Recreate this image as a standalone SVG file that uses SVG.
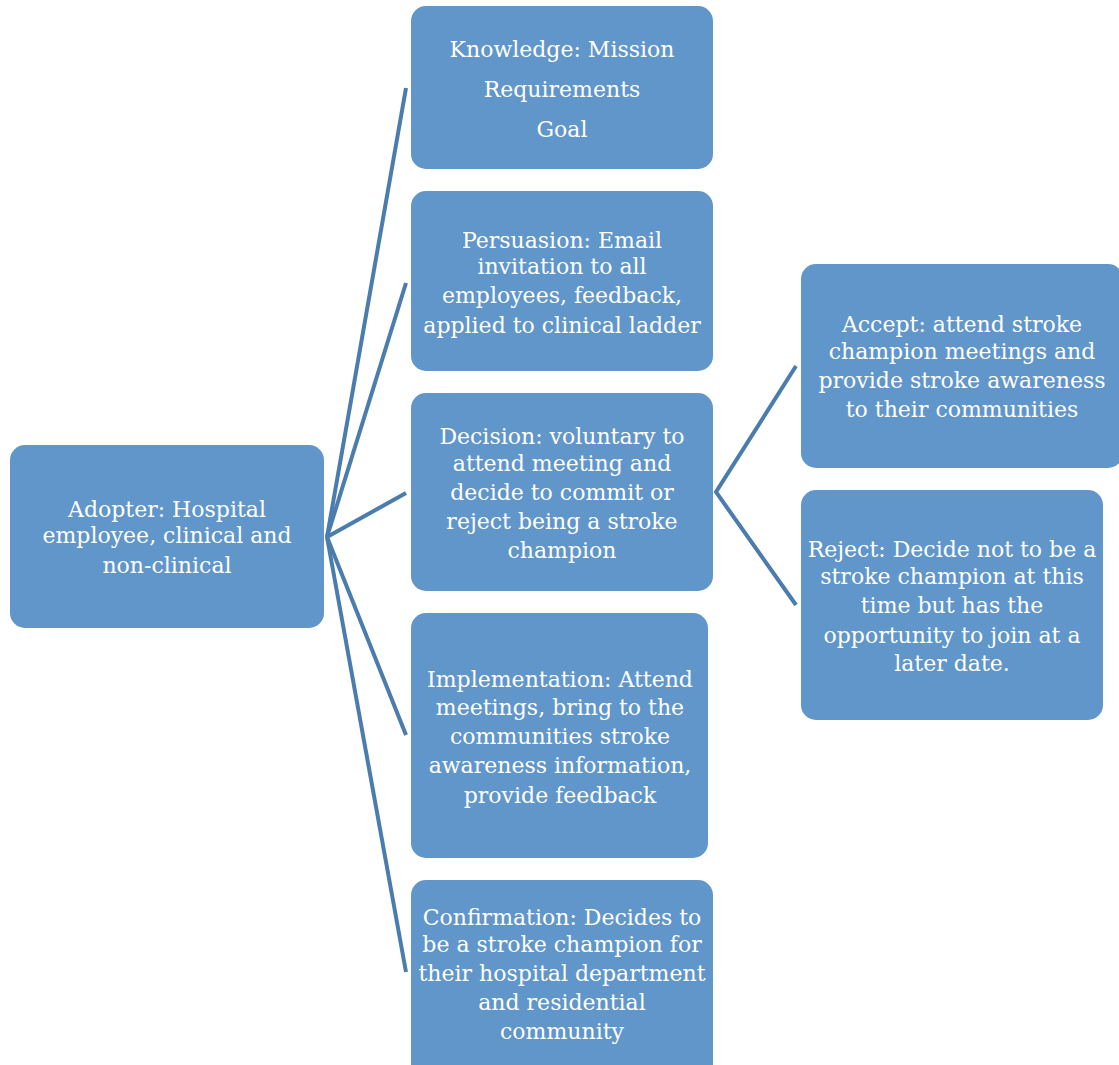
<svg xmlns="http://www.w3.org/2000/svg" width="1119" height="1065" viewBox="0 0 1119 1065">
<style>
.box{fill:#6096c9;}
.t{font-family:"DejaVu Serif","Liberation Serif",serif;font-size:22px;fill:#ffffff;text-anchor:middle;}
.c{stroke:#4a7dad;stroke-width:4;fill:none;stroke-linecap:butt;stroke-linejoin:miter;}
</style>
<rect width="1119" height="1065" fill="#ffffff"/>
<g id="connectors">
<line class="c" x1="327" y1="537" x2="406" y2="88"/>
<line class="c" x1="327" y1="537" x2="406" y2="283"/>
<line class="c" x1="327" y1="537" x2="406" y2="493"/>
<line class="c" x1="327" y1="537" x2="406" y2="735"/>
<line class="c" x1="327" y1="537" x2="406" y2="972"/>
<polyline class="c" points="796,366 716,492 796,605"/>
</g>
<g id="adopter">
<rect class="box" x="10" y="445" width="314" height="183" rx="15"/>
<text class="t" x="167" y="517">Adopter: Hospital</text>
<text class="t" x="167" y="543">employee, clinical and</text>
<text class="t" x="167" y="573">non-clinical</text>
</g>
<g id="knowledge">
<rect class="box" x="411" y="6" width="302" height="163" rx="15"/>
<text class="t" x="562" y="57">Knowledge: Mission</text>
<text class="t" x="562" y="97">Requirements</text>
<text class="t" x="562" y="137">Goal</text>
</g>
<g id="persuasion">
<rect class="box" x="411" y="191" width="302" height="180" rx="15"/>
<text class="t" x="562" y="248">Persuasion: Email</text>
<text class="t" x="562" y="274">invitation to all</text>
<text class="t" x="562" y="303">employees, feedback,</text>
<text class="t" x="562" y="333">applied to clinical ladder</text>
</g>
<g id="decision">
<rect class="box" x="411" y="393" width="302" height="198" rx="15"/>
<text class="t" x="562" y="444">Decision: voluntary to</text>
<text class="t" x="562" y="471">attend meeting and</text>
<text class="t" x="562" y="500">decide to commit or</text>
<text class="t" x="562" y="529">reject being a stroke</text>
<text class="t" x="562" y="558">champion</text>
</g>
<g id="implementation">
<rect class="box" x="411" y="613" width="297" height="245" rx="15"/>
<text class="t" x="560" y="687">Implementation: Attend</text>
<text class="t" x="560" y="715">meetings, bring to the</text>
<text class="t" x="560" y="744">communities stroke</text>
<text class="t" x="560" y="773">awareness information,</text>
<text class="t" x="560" y="803">provide feedback</text>
</g>
<g id="confirmation">
<rect class="box" x="411" y="880" width="302" height="200" rx="15"/>
<text class="t" x="562" y="925">Confirmation: Decides to</text>
<text class="t" x="562" y="952">be a stroke champion for</text>
<text class="t" x="562" y="981">their hospital department</text>
<text class="t" x="562" y="1010">and residential</text>
<text class="t" x="562" y="1039">community</text>
</g>
<g id="accept">
<rect class="box" x="801" y="264" width="322" height="204" rx="15"/>
<text class="t" x="962" y="332">Accept: attend stroke</text>
<text class="t" x="962" y="359">champion meetings and</text>
<text class="t" x="962" y="388">provide stroke awareness</text>
<text class="t" x="962" y="417">to their communities</text>
</g>
<g id="reject">
<rect class="box" x="801" y="490" width="302" height="230" rx="15"/>
<text class="t" x="952" y="557">Reject: Decide not to be a</text>
<text class="t" x="952" y="584">stroke champion at this</text>
<text class="t" x="952" y="613">time but has the</text>
<text class="t" x="952" y="643">opportunity to join at a</text>
<text class="t" x="952" y="671">later date.</text>
</g>
</svg>
